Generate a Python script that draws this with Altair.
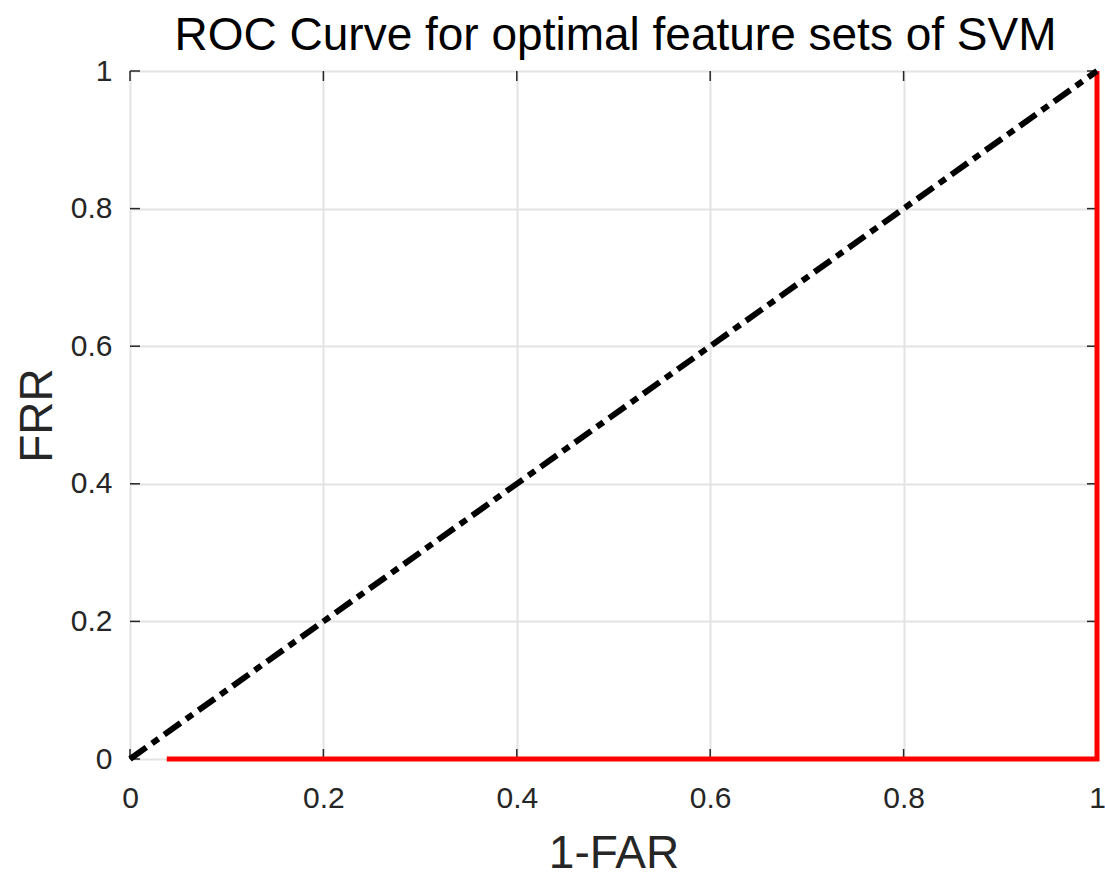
import altair as alt
import pandas as pd

# Data
roc_x = [0.038, 1.0, 1.0]
roc_y = [0.0, 0.0, 1.0]
diag_x = [0.0, 1.0]
diag_y = [0.0, 1.0]
tick_values = [0, 0.2, 0.4, 0.6, 0.8, 1]
title_text = ["ROC Curve for optimal feature sets of SVM"]

W, H = 967, 688
FONT = "Liberation Sans"
AX = "#262626"

roc_df = pd.DataFrame({"x": roc_x, "y": roc_y, "idx": list(range(len(roc_x)))})
diag_df = pd.DataFrame({"x": diag_x, "y": diag_y})
tick_df = pd.DataFrame({"v": tick_values})
title_df = pd.DataFrame({"t": title_text})

xscale = alt.Scale(domain=[0, 1], nice=False, zero=False)
yscale = alt.Scale(domain=[0, 1], nice=False, zero=False)

xaxis = alt.Axis(values=tick_values, format="~g", title="1-FAR", grid=True,
                 gridColor="#e3e3e3", gridWidth=2, domain=False, ticks=False, tickSize=0,
                 labelFlush=False, labelOverlap=False,
                 labelFont=FONT, labelFontSize=30, labelColor=AX, labelPadding=24,
                 titleFont=FONT, titleFontSize=46, titleColor=AX, titleFontWeight="normal",
                 titleBaseline="alphabetic", titleY=108)
yaxis = alt.Axis(values=tick_values, format="~g", title="FRR", grid=True,
                 gridColor="#e3e3e3", gridWidth=2, domain=False, ticks=False, tickSize=0,
                 labelFlush=False, labelOverlap=False,
                 labelFont=FONT, labelFontSize=30, labelColor=AX, labelPadding=18,
                 titleFont=FONT, titleFontSize=46, titleColor=AX, titleFontWeight="normal",
                 titleBaseline="alphabetic", titleX=-79, titleAngle=270)

roc = alt.Chart(roc_df).mark_line(color="#ff0000", strokeWidth=5, strokeCap="butt", strokeJoin="miter").encode(
    x=alt.X("x:Q", scale=xscale, axis=xaxis),
    y=alt.Y("y:Q", scale=yscale, axis=yaxis),
    order="idx:Q",
)

diag = alt.Chart(diag_df).mark_line(color="#000000", strokeWidth=6, strokeCap="butt",
                                    strokeDash=[20, 7, 8, 7]).encode(
    x=alt.X("x:Q", scale=xscale),
    y=alt.Y("y:Q", scale=yscale),
)

tick_style = dict(color=AX, strokeWidth=1.5)
xt_bottom = alt.Chart(tick_df).mark_rule(**tick_style).encode(
    x=alt.X("v:Q", scale=xscale), y=alt.value(H), y2=alt.value(H - 10))
xt_top = alt.Chart(tick_df).mark_rule(**tick_style).encode(
    x=alt.X("v:Q", scale=xscale), y=alt.value(0), y2=alt.value(10))
yt_left = alt.Chart(tick_df).mark_rule(**tick_style).encode(
    y=alt.Y("v:Q", scale=yscale), x=alt.value(0), x2=alt.value(10))
yt_right = alt.Chart(tick_df).mark_rule(**tick_style).encode(
    y=alt.Y("v:Q", scale=yscale), x=alt.value(W), x2=alt.value(W - 10))

title = alt.Chart(title_df).mark_text(font=FONT, fontSize=46, color="#000000",
                                      baseline="alphabetic", align="center").encode(
    text="t:N", x=alt.value(W / 2 + 2), y=alt.value(-21))

chart = alt.layer(xt_bottom, xt_top, yt_left, yt_right, roc, diag, title).properties(
    width=W, height=H,
    autosize=alt.AutoSizeParams(type="none"),
    padding={"left": 130, "top": 71, "right": 8, "bottom": 117},
).configure_view(stroke=AX, strokeWidth=1.5).configure(background="white")

chart.save("out.html", embed_options={"renderer": "svg", "actions": False})
